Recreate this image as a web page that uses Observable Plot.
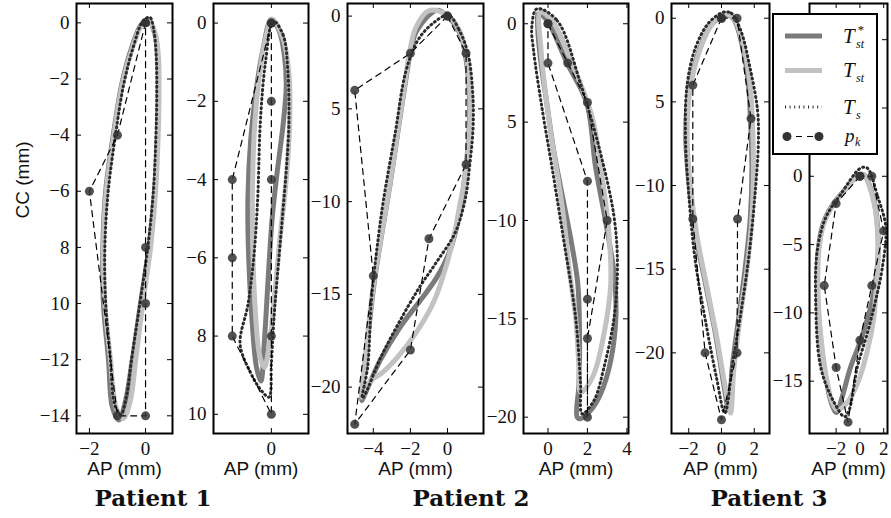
<!DOCTYPE html>
<html><head><meta charset="utf-8">
<script src="https://cdn.jsdelivr.net/npm/d3@7"></script>
<script src="https://cdn.jsdelivr.net/npm/@observablehq/plot@0.6"></script>
<style>
body{margin:0;background:#fff;}
#wrap{position:relative;width:891px;height:518px;overflow:hidden;background:#fff;}
.pan{position:absolute;top:0;}
.pan g[aria-label$="tick label"], .pan g[aria-label$="tick label"] text{font-family:"Liberation Serif","Times New Roman",serif !important;font-size:19px !important;}
.pan g[aria-label="text"], .pan g[aria-label="text"] text{font-family:"Liberation Sans",Arial,sans-serif !important;font-size:19px !important;}
.pat{position:absolute;top:484px;font-family:"DejaVu Serif",serif;font-weight:bold;font-size:23px;transform:translateX(-50%);white-space:nowrap;color:#111;}
#legend{position:absolute;left:772px;top:13px;width:106px;height:142px;border:2px solid #000;box-sizing:border-box;background:#fff;}
#legend text{font-family:"Liberation Serif",serif;font-style:italic;fill:#111;}
</style></head>
<body><div id="wrap"></div>
<script>
// ---------- data (mm) ----------
// Patient 1, panel 1
const p1_tstar=[[0.08,0.12],[0.32,-0.35],[0.43,-1.2],[0.45,-2.5],[0.42,-4],[0.32,-6],[0.12,-8],[-0.18,-10],[-0.47,-12],[-0.72,-13.5],[-0.95,-14.15],[-1.18,-13.7],[-1.32,-12],[-1.5,-10],[-1.52,-8],[-1.42,-6],[-1.15,-4],[-0.85,-2.2],[-0.5,-0.9],[-0.18,-0.1]];
const p1_tst=[[0.1,0.1],[0.35,-0.4],[0.46,-1.2],[0.48,-2.5],[0.45,-4],[0.36,-6],[0.18,-8],[-0.1,-10],[-0.35,-12],[-0.55,-13.5],[-0.8,-14.1],[-1.05,-13.7],[-1.25,-12],[-1.45,-10],[-1.5,-8],[-1.4,-6],[-1.13,-4],[-0.83,-2.2],[-0.47,-0.9],[-0.15,-0.1]];
const p1_ts=[[0.15,0.2],[0.3,-0.3],[0.38,-1.2],[0.4,-2.5],[0.37,-4],[0.28,-6],[0.08,-8],[-0.2,-10],[-0.5,-12],[-0.68,-13.3],[-0.88,-13.95],[-1.1,-13.6],[-1.25,-12],[-1.42,-10],[-1.45,-8],[-1.33,-6],[-1.07,-4],[-0.78,-2.2],[-0.42,-0.8],[-0.1,0.05]];
const p1_pk=[[0,0],[-1,-4],[-2,-6],[-1,-14],[0,-14],[0,-10],[0,-8],[0,0]];
const p1_xticks=[-2,0], p1_xlabels=["−2","0"];
const p1_yticks=[0,-2,-4,-6,-8,-10,-12,-14], p1_ylabels=["0","−2","−4","−6","8","10","−12","−14"];
// Patient 1, panel 2
const p2_tstar=[[0,0.1],[0.2,-0.2],[0.33,-0.8],[0.38,-1.6],[0.3,-2.6],[0.15,-3.8],[0.02,-5],[-0.08,-6.5],[-0.17,-8],[-0.27,-9.15],[-0.38,-8.8],[-0.5,-7.5],[-0.58,-6],[-0.6,-4.5],[-0.53,-3],[-0.4,-1.8],[-0.22,-0.7]];
const p2_tst=[[0.02,0.1],[0.3,-0.4],[0.45,-1.3],[0.47,-2.5],[0.38,-4],[0.22,-5.5],[0.08,-7],[-0.05,-8.2],[-0.18,-8.8],[-0.3,-8.5],[-0.42,-7.2],[-0.48,-5.5],[-0.48,-4],[-0.42,-2.5],[-0.3,-1.3],[-0.15,-0.4]];
const p2_ts=[[0.05,0.05],[0.3,-0.3],[0.42,-1.2],[0.45,-2.5],[0.4,-3.5],[0.28,-5],[0.15,-6.5],[0.07,-7.5],[0,-8.7],[-0.06,-9.56],[-0.25,-9.4],[-0.55,-8.9],[-0.8,-8.2],[-0.6,-7.2],[-0.45,-6],[-0.35,-4.5],[-0.28,-2.5],[-0.15,-1]];
const p2_pk=[[0,0],[-1,-4],[-1,-6],[-1,-8],[0,-10],[0,-8],[0,-4],[0,-2],[0,0]];
const p2_xticks=[0], p2_xlabels=["0"];
const p2_yticks=[0,-2,-4,-6,-8,-10], p2_ylabels=["0","−2","−4","−6","8","10"];
// Patient 2, panel 3
const p3_tstar=[[-0.57,0.31],[0,0],[0.68,-0.95],[1.01,-2.39],[1.19,-4.55],[1.13,-6.7],[0.95,-8.5],[0.68,-10.5],[0.14,-12.63],[-0.57,-14.07],[-1.47,-15.33],[-2.55,-16.76],[-3.63,-18.56],[-4.44,-20.35],[-4.62,-20.72],[-4.44,-18.9],[-4.17,-16.2],[-3.9,-14],[-3.54,-11.73],[-3.09,-9.03],[-2.69,-6.34],[-2.28,-3.64],[-2,-1.97],[-1.65,-0.77]];
const p3_tst=[[-1.0,0.3],[0,0.05],[0.7,-0.9],[1.05,-2.4],[1.22,-4.5],[1.15,-6.7],[0.95,-8.6],[0.64,-10.3],[0.37,-11.73],[-0.08,-13.5],[-0.71,-15.33],[-1.61,-16.94],[-2.69,-18.38],[-3.59,-19.28],[-4.13,-19.64],[-4.62,-20.54],[-4.48,-18.9],[-4.2,-16.2],[-3.92,-14],[-3.55,-11.73],[-3.1,-9.03],[-2.7,-6.34],[-2.3,-3.64],[-2.05,-1.97],[-1.7,-0.6]];
const p3_ts=[[0.05,0.05],[0.6,-0.7],[1.1,-2],[1.35,-4],[1.38,-6],[1.2,-8],[0.95,-9.9],[0.4,-11.7],[-0.55,-13.2],[-1.5,-14.6],[-2.55,-16.4],[-3.6,-18.4],[-4.45,-20.4],[-4.6,-20.6],[-4.3,-18.9],[-4.1,-15.3],[-3.8,-12.5],[-3.45,-9.9],[-2.82,-6.3],[-2.25,-3],[-1.6,-1.3],[-0.8,-0.4]];
const p3_pk=[[0,0],[-2,-2],[-5,-4],[-4,-14],[-5,-22],[-2,-18],[-1,-12],[1,-8],[1,-2],[0,0]];
const p3_xticks=[-4,-2,0], p3_xlabels=["−4","−2","0"];
const p3_yticks=[0,-5,-10,-15,-20], p3_ylabels=["0","5","−10","−15","−20"];
// Patient 2, panel 4
const p4_tstar=[[-0.48,0.51],[-0.05,0.17],[0.97,-2],[1.96,-4.02],[2.41,-7.28],[2.92,-10.05],[3.35,-12.71],[3.44,-14.92],[3.18,-17.12],[2.67,-18.81],[2.16,-19.66],[1.65,-20.08],[1.48,-20],[1.57,-18.3],[1.6,-15.76],[1.51,-13.22],[1.17,-11.02],[0.71,-8.65],[0.29,-6.44],[-0.08,-3.9],[-0.39,-1.7],[-0.52,-0.17]];
const p4_tst=[[-0.39,0.6],[0.2,0.17],[1.31,-2.21],[2.24,-4.75],[2.67,-7.28],[3.09,-10.67],[3.18,-13.22],[2.84,-15.76],[2.33,-17.8],[1.82,-18.64],[1.65,-18.73],[1.57,-17.46],[1.4,-14.92],[1.06,-12.37],[0.89,-10.67],[0.63,-8.65],[0.2,-5.93],[-0.14,-3.39],[-0.35,-1.36]];
const p4_ts=[[-0.56,0.76],[0.46,0.17],[1.65,-3.05],[2.67,-6.61],[3.35,-9.83],[3.52,-12.37],[3.35,-14.92],[2.84,-17.46],[2.33,-19.15],[1.73,-19.83],[1.65,-18.3],[1.4,-14.92],[0.8,-11.02],[0.2,-7.28],[-0.31,-4.24],[-0.73,-1.36],[-0.82,-0.17]];
const p4_pk=[[0,0],[1,-2],[2,-4],[3,-10],[2,-16],[2,-20],[2,-14],[2,-8],[0,-2],[0,0]];
const p4_xticks=[0,2,4], p4_xlabels=["0","2","4"];
const p4_yticks=[0,-5,-10,-15,-20], p4_ylabels=["0","5","−10","−15","−20"];
// Patient 3, panel 5
const p5_tstar=[[0.34,0.2],[0.75,-0.06],[1.35,-2],[1.65,-4],[1.76,-5.9],[1.86,-8.9],[1.76,-11.9],[1.45,-14.9],[1.05,-17.9],[0.65,-20.9],[0.45,-23.45],[0.14,-21.9],[-0.36,-18.9],[-0.97,-15.9],[-1.58,-12.9],[-1.98,-9.9],[-2.18,-6.9],[-1.98,-4.3],[-1.37,-1.93],[-0.57,-0.33]];
const p5_tst=[[0.3,0.25],[0.8,-0.1],[1.42,-2],[1.75,-4],[1.88,-6],[1.95,-9],[1.85,-12],[1.55,-15],[1.12,-18],[0.75,-21],[0.55,-23.6],[0.22,-22],[-0.3,-19],[-0.9,-16],[-1.5,-13],[-1.9,-10],[-2.1,-7],[-1.92,-4.3],[-1.32,-1.9],[-0.55,-0.3]];
const p5_ts=[[0.1,0.35],[0.6,0.3],[1.2,-0.8],[1.75,-3],[2.2,-5.5],[2.25,-7.5],[2.05,-10.5],[1.7,-14],[1.2,-17.5],[0.7,-20.5],[0.2,-23.6],[-0.3,-21.5],[-0.9,-18.5],[-1.6,-14.5],[-2,-10.5],[-2.2,-7],[-2.1,-4],[-1.6,-1.8],[-0.8,-0.3]];
const p5_pk=[[0,0],[-1.75,-4],[-1.75,-12],[-1,-20],[0,-24],[0.95,-20],[0.98,-12],[1.8,-6],[0.95,0],[0,0]];
const p5_xticks=[-2,0,2], p5_xlabels=["−2","0","2"];
const p5_yticks=[0,-5,-10,-15,-20], p5_ylabels=["0","5","−10","−15","−20"];
// Patient 3, panel 6
const p6_tstar=[[0.34,0.1],[1.18,-1.78],[1.52,-4.22],[1.46,-6.66],[1.04,-9.1],[0.06,-12.03],[-0.79,-13.98],[-1.5,-16.18],[-1.97,-17.29],[-2.4,-16.6],[-2.77,-15.2],[-3.19,-12.8],[-3.55,-9.1],[-3.5,-5.4],[-3.1,-3.5],[-2.3,-2.1],[-1.07,-0.8],[-0.22,0.05]];
const p6_tst=[[0.3,0.1],[1.15,-1.8],[1.5,-4.2],[1.5,-6.7],[1.3,-9],[1.18,-10.3],[0.62,-12.8],[-0.22,-15.2],[-1.21,-16.7],[-1.92,-17.1],[-2.35,-16.5],[-2.72,-15.2],[-3.15,-12.8],[-3.5,-9.1],[-3.45,-5.4],[-3.05,-3.5],[-2.25,-2.1],[-1.05,-0.8],[-0.2,0.05]];
const p6_ts=[[0.62,0.6],[1.5,-1.5],[2.18,-3.74],[1.89,-6.66],[1.32,-9.1],[0.62,-11.5],[-0.22,-13.98],[-0.93,-17.17],[-1.3,-17.6],[-2.2,-16.5],[-3.3,-13.98],[-3.72,-9.1],[-3.58,-5.4],[-2.86,-2.99],[-1.6,-1.3],[0.06,0.6]];
const p6_pk=[[0,0],[-2,-2],[-3,-8],[-2,-14],[-1,-18],[0,-12],[1,-8],[2,-4],[1,0],[0,0]];
const p6_xticks=[-2,0,2], p6_xlabels=["−2","0","2"];
const p6_yticks=[10,5,0,-5,-10,-15], p6_ylabels=["10","5","0","−5","−10","−15"];

const patients=["Patient 1","Patient 2","Patient 3"];

// ---------- drawing ----------
const SERIF='"Liberation Serif", "Times New Roman", serif';
const SANS='"Liberation Sans", Arial, sans-serif';
const DARK="#7b7b7b", LIGHT="#c2c2c2", DOT="#2a2a2a", PK="#333";
const wrap=document.getElementById("wrap");

function panel(cfg){
  const {left, fl, fr, xd, yd, xt, xl, yt, yl, tstar, tst, ts, pk, ylab} = cfg;
  const top=3, bottom=433, H=480;
  const width=fr-left+3;
  const fw=fr-fl, fh=bottom-top;
  const X=d=>d[0], Y=d=>d[1];
  const marks=[
    Plot.line(tstar,{x:X,y:Y,curve:"catmull-rom-closed",stroke:DARK,strokeWidth:5}),
    Plot.line(tst,{x:X,y:Y,curve:"catmull-rom-closed",stroke:LIGHT,strokeWidth:5}),
    Plot.line(ts,{x:X,y:Y,curve:"catmull-rom-closed",stroke:DOT,strokeWidth:3,strokeDasharray:"1,3.6"}),
    Plot.line(pk,{x:X,y:Y,stroke:"#000",strokeWidth:1.2,strokeDasharray:"6,5"}),
    Plot.dot(pk,{x:X,y:Y,r:4.5,fill:PK,fillOpacity:0.85,stroke:null}),
    Plot.frame({stroke:"#000",strokeWidth:2}),
    Plot.tickY(yt,{insetRight:fw-5,stroke:"#000",strokeWidth:1}),
    Plot.tickY(yt,{insetLeft:fw-5,stroke:"#000",strokeWidth:1}),
    Plot.tickX(xt,{insetTop:fh-5,stroke:"#000",strokeWidth:1}),
    Plot.tickX(xt,{insetBottom:fh-5,stroke:"#000",strokeWidth:1}),
    Plot.axisY({ticks:yt,tickFormat:d=>yl[yt.indexOf(d)],tickSize:0,tickPadding:7,label:null,fontSize:19,fontFamily:SERIF,fill:"#111"}),
    Plot.axisX({ticks:xt,tickFormat:d=>xl[xt.indexOf(d)],tickSize:0,tickPadding:8,label:null,fontSize:19,fontFamily:SERIF,fill:"#111"}),
    Plot.text(["AP (mm)"],{frameAnchor:"bottom",lineAnchor:"middle",dy:35,fontSize:19,fontFamily:SANS,fill:"#111"})
  ];
  if(ylab) marks.push(Plot.text([ylab],{frameAnchor:"left",dx:-54,rotate:-90,fontSize:19,fontFamily:SANS,fill:"#111"}));
  const svg=Plot.plot({
    width, height:H, marginLeft:fl-left, marginRight:width-(fr-left), marginTop:top, marginBottom:H-bottom,
    x:{domain:xd,axis:null}, y:{domain:yd,axis:null},
    style:{background:"transparent",overflow:"visible",fontFamily:SERIF,fontSize:"19px"},
    marks
  });
  const div=document.createElement("div");
  div.className="pan"; div.style.left=left+"px";
  div.appendChild(svg); wrap.appendChild(div);
}

panel({left:0,fl:76,fr:172,xd:[-2.46,0.96],yd:[-14.63,0.69],xt:p1_xticks,xl:p1_xlabels,yt:p1_yticks,yl:p1_ylabels,tstar:p1_tstar,tst:p1_tst,ts:p1_ts,pk:p1_pk,ylab:"CC (mm)"});
panel({left:165,fl:213,fr:308,xd:[-1.48,0.95],yd:[-10.49,0.5],xt:p2_xticks,xl:p2_xlabels,yt:p2_yticks,yl:p2_ylabels,tstar:p2_tstar,tst:p2_tst,ts:p2_ts,pk:p2_pk});
panel({left:299,fl:347,fr:483,xd:[-5.39,1.94],yd:[-22.5,0.68],xt:p3_xticks,xl:p3_xlabels,yt:p3_yticks,yl:p3_ylabels,tstar:p3_tstar,tst:p3_tst,ts:p3_ts,pk:p3_pk});
panel({left:475,fl:523,fr:628,xd:[-1.24,4.08],yd:[-20.83,1.03],xt:p4_xticks,xl:p4_xlabels,yt:p4_yticks,yl:p4_ylabels,tstar:p4_tstar,tst:p4_tst,ts:p4_ts,pk:p4_pk});
panel({left:623,fl:671,fr:769,xd:[-3.05,2.93],yd:[-24.82,0.88],xt:p5_xticks,xl:p5_xlabels,yt:p5_yticks,yl:p5_ylabels,tstar:p5_tstar,tst:p5_tst,ts:p5_ts,pk:p5_pk});
panel({left:761,fl:809,fr:887,xd:[-4.24,2.32],yd:[-18.83,12.65],xt:p6_xticks,xl:p6_xlabels,yt:p6_yticks,yl:p6_ylabels,tstar:p6_tstar,tst:p6_tst,ts:p6_ts,pk:p6_pk});

// patient labels
const patX=[153,471,769];
patients.forEach((t,i)=>{const d=document.createElement("div");d.className="pat";d.style.left=patX[i]+"px";d.textContent=t;wrap.appendChild(d);});

// legend
const lg=document.createElement("div"); lg.id="legend";
const NS="http://www.w3.org/2000/svg";
const ls=document.createElementNS(NS,"svg"); ls.setAttribute("width","102"); ls.setAttribute("height","138");
const rows=[{y:21,stroke:DARK,w:5,dash:null},{y:55.5,stroke:LIGHT,w:5,dash:null},{y:92,stroke:DOT,w:3,dash:"1,3.6"},{y:121.5,stroke:"#000",w:1.2,dash:"6,5",pk:true}];
rows.forEach(r=>{
  const l=document.createElementNS(NS,"line");
  l.setAttribute("x1",11);l.setAttribute("x2",r.pk?46:48);l.setAttribute("y1",r.y);l.setAttribute("y2",r.y);
  l.setAttribute("stroke",r.stroke);l.setAttribute("stroke-width",r.w);if(r.dash)l.setAttribute("stroke-dasharray",r.dash);
  ls.appendChild(l);
  if(r.pk){[13,45].forEach(cx=>{const c=document.createElementNS(NS,"circle");c.setAttribute("cx",cx);c.setAttribute("cy",r.y);c.setAttribute("r",4.5);c.setAttribute("fill",PK);ls.appendChild(c);});}
});
const labHTML=[
 '<text x="69" y="28" font-size="21">T</text><text x="82" y="33" font-size="12">st</text><text x="83" y="19" font-size="13">*</text>',
 '<text x="69" y="62" font-size="21">T</text><text x="82" y="67" font-size="12">st</text>',
 '<text x="69" y="99" font-size="21">T</text><text x="82" y="104" font-size="12">s</text>',
 '<text x="71" y="127" font-size="19">p</text><text x="81" y="131" font-size="12">k</text>'
];
ls.insertAdjacentHTML("beforeend",labHTML.join(""));
lg.appendChild(ls); wrap.appendChild(lg);
</script>
</body></html>
